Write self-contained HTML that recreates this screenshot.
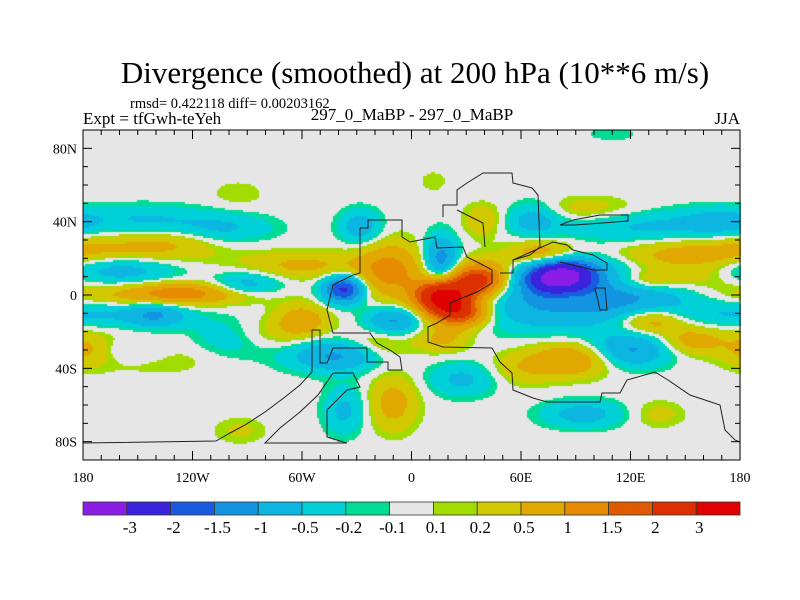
<!DOCTYPE html>
<html><head><meta charset="utf-8"><style>
body{margin:0;background:#fff;width:800px;height:600px;overflow:hidden;position:relative;font-family:"Liberation Serif",serif}
#cv{position:absolute;left:0;top:0}
svg{position:absolute;left:0;top:0}
text{font-family:"Liberation Serif",serif;fill:#000}
</style></head><body>
<canvas id="cv" width="800" height="600"></canvas>
<svg id="sv" width="800" height="600">
<text x="415" y="83" font-size="31" text-anchor="middle">Divergence (smoothed) at 200 hPa (10**6 m/s)</text>
<text x="130" y="108" font-size="14.5">rmsd= 0.422118 diff= 0.00203162</text>
<text x="83" y="124" font-size="17">Expt = tfGwh-teYeh</text>
<text x="412" y="120" font-size="17" text-anchor="middle">297_0_MaBP - 297_0_MaBP</text>
<text x="740" y="124" font-size="17" text-anchor="end">JJA</text>
<g id="coast" fill="none" stroke="#222" stroke-width="1"></g>
<g id="axes"></g>
<g id="cbar"></g>
</svg>
<script>
// blobs: lon, lat, amplitude, lon-width, lat-width
const blobLon=[-150,-127,-95,-162,-90,-170,-140,-100,-160,-150,-95,-120,-100,-60,-140,-178,-45,-60,-37,-28,-12,-10,-37,-10,-94,17,37,27,81,80,16,72,67,39,95,130,150,120,130,131,154,88,86,120,17,28,94,135,110,12,-150,-35,170,-80,-20,60,160,-130,100];
const blobLat=[0,1,0,14,5,-10,-11,-25,24,42,55,38,36,16,-30,-30,-33,-14,3,37,13,-14,-63,-59,-74,-1,8,-10,10,-5,19,22,42,40,46,38,22,-2,8,-14,-25,-35,0,-30,-24,-46,-65,-65,88,62,-30,-33,40,-22,-28,-40,10,30,15];
const blobAmp=[0.7,0.9,0.5,-0.9,-0.8,-0.6,-0.8,-0.6,0.7,-0.35,0.2,-0.35,-0.35,0.6,0.45,0.4,-0.7,0.8,-2.2,-0.8,1.2,-1.1,-0.6,0.7,0.25,3.6,2.4,2.0,-3.6,-1.0,-1.3,1.0,-0.7,0.45,0.45,-0.6,0.6,-0.7,0.5,0.9,0.7,1.0,0.5,-1.1,0.6,-0.6,-0.7,0.3,-0.15,0.2,-0.5,-0.5,-0.5,0.4,0.5,0.4,0.4,0.3,-0.4];
const blobSx=[22,12,12,18,10,25,8,15,25,14,8,18,14,18,25,6,14,8,6,6,10,8,6,7,8,8,8,8,10,25,5,10,8,6,18,30,20,20,8,10,10,12,8,12,8,10,12,8,10,4,12,12,10,12,10,10,14,12,12];
const blobSy=[4,3,3,5,4,4,4,6,5,4,4,5,4,4,6,5,5,5,4,5,8,4,7,8,4,5,5,4,5,8,7,4,5,5,4,5,4,5,3,4,4,5,4,5,4,5,4,4,3,3,4,4,4,5,5,5,4,4,4];
const levels=[-3,-2,-1.5,-1,-0.5,-0.2,-0.1,0.1,0.2,0.5,1,1.5,2,3];
const levelLabels=["-3","-2","-1.5","-1","-0.5","-0.2","-0.1","0.1","0.2","0.5","1","1.5","2","3"];
const colors=["#8a1ee6","#3b22dc","#1a5ae0","#1294e0","#0cb6e0","#00d0d8","#00dc96","#e6e6e6","#a0dc00","#d2c800","#e0a800","#e68a00","#e05a00","#dc3000","#e00000"];
const xTickLon=[-180,-120,-60,0,60,120,180];
const xTickLabels=["180","120W","60W","0","60E","120E","180"];
const yTickLat=[80,40,0,-40,-80];
const yTickLabels=["80N","40N","0","40S","80S"];
const coastLines=[
[[360,228],[368,228],[368,220],[402,220],[402,237],[410,242],[435,237],[437,248],[463,247],[467,257],[483,265],[492,270],[492,283],[477,292],[450,303],[450,315],[437,323],[428,327],[428,342],[443,347],[492,348],[500,362],[512,373],[513,390],[533,398],[547,402],[600,402],[602,393],[620,393],[627,380],[655,372],[668,380],[690,395],[720,405],[725,430],[735,440],[740,442]],
[[360,228],[360,273],[353,275],[333,285],[327,310],[333,333],[370,333],[377,343],[390,350],[400,357],[402,370],[388,370],[388,362],[367,362],[367,348],[333,348],[327,363],[320,363],[320,330],[312,330],[312,372],[300,385],[285,397],[265,412],[245,425],[230,433],[216,441],[83,443]],
[[333,373],[353,373],[360,387],[347,390],[327,410],[327,437],[347,443],[265,443],[280,428],[300,412],[318,395],[333,373]],
[[443,217],[443,205],[457,205],[457,190],[467,183],[483,173],[512,173],[513,183],[532,188],[538,195],[540,247],[530,255],[513,260],[513,273],[500,273]],
[[457,210],[483,223],[485,247]],
[[513,260],[553,242],[567,245],[573,250],[593,255],[607,263],[607,270],[593,270],[560,262]],
[[573,220],[600,215],[628,215],[628,221],[575,225],[560,225],[573,220]],
[[595,288],[605,288],[607,310],[600,310],[595,288]]
];
const WS=1.3;
const X0=83,X1=740,Y0=130,Y1=460;
const xs=lon=>X0+(lon+180)/360*(X1-X0);
const ys=lat=>Y0+(90-lat)/180*(Y1-Y0);
function field(lon,lat){let v=0;for(let i=0;i<blobLon.length;i++){let dl=lon-blobLon[i];if(dl>180)dl-=360;if(dl<-180)dl+=360;const a=dl/(blobSx[i]*WS),b=(lat-blobLat[i])/(blobSy[i]*WS);v+=blobAmp[i]*Math.exp(-0.5*(a*a+b*b));}return v;}
function colorOf(v){let k=0;while(k<levels.length&&v>=levels[k])k++;return colors[k];}
const ctx=document.getElementById('cv').getContext('2d');
ctx.fillStyle="#e6e6e6";ctx.fillRect(X0,Y0,X1-X0,Y1-Y0);
const st=2;
for(let px=X0;px<X1;px+=st){for(let py=Y0;py<Y1;py+=st){const lon=(px+1-X0)/(X1-X0)*360-180,lat=90-(py+1-Y0)/(Y1-Y0)*180;ctx.fillStyle=colorOf(field(lon,lat));ctx.fillRect(px,py,st,st);}}
const NS="http://www.w3.org/2000/svg";
function mk(t,at,p){const e=document.createElementNS(NS,t);for(const k in at)e.setAttribute(k,at[k]);p.appendChild(e);return e;}
const cg=document.getElementById('coast');
coastLines.forEach(l=>{const e=mk('polyline',{points:l.map(p=>p.join(',')).join(' ')},cg);

});
const ag=document.getElementById('axes');
const fr=mk('rect',{x:X0,y:Y0,width:X1-X0,height:Y1-Y0,fill:'none',stroke:'#000','stroke-width':1},ag);


for(let lon=-180;lon<=180;lon+=10){const x=xs(lon),L=(lon%60===0)?9:5;mk('line',{x1:x,x2:x,y1:Y1,y2:Y1-L,stroke:'#000'},ag);mk('line',{x1:x,x2:x,y1:Y0,y2:Y0+L,stroke:'#000'},ag);}
for(let lat=-90;lat<=90;lat+=10){const y=ys(lat),L=(lat%40===0)?9:5;mk('line',{x1:X0,x2:X0+L,y1:y,y2:y,stroke:'#000'},ag);mk('line',{x1:X1,x2:X1-L,y1:y,y2:y,stroke:'#000'},ag);}
xTickLon.forEach((lon,i)=>{const t=mk('text',{x:xs(lon),y:482,'font-size':14,'text-anchor':'middle'},ag);t.textContent=xTickLabels[i];

});
yTickLat.forEach((lat,i)=>{const t=mk('text',{x:77,y:ys(lat)+5,'font-size':14,'text-anchor':'end'},ag);t.textContent=yTickLabels[i];

});
const bg=document.getElementById('cbar');
const BX0=83,BX1=740,BW=(BX1-BX0)/colors.length;
colors.forEach((c,i)=>{const r=mk('rect',{x:BX0+i*BW,y:502,width:BW,height:13,fill:c,stroke:'#333','stroke-width':0.8},bg);

});
levelLabels.forEach((s,i)=>{const t=mk('text',{x:BX0+(i+1)*BW+3,y:533,'font-size':17,'text-anchor':'middle'},bg);t.textContent=s;

});
</script>
</body></html>
